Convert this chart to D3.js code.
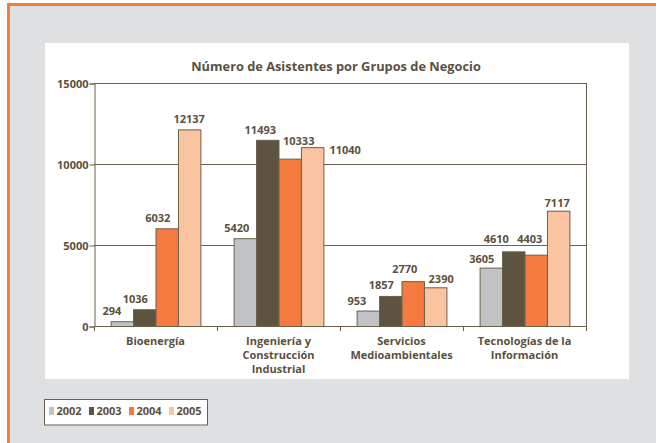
<!DOCTYPE html>
<html>
<head>
<meta charset="utf-8">
<script src="https://cdn.jsdelivr.net/npm/d3@7"></script>
<style>
  body { margin: 0; background: #fff; }
  svg { display: block; font-family: "Open Sans", "Noto Sans", sans-serif; }
</style>
</head>
<body>
<div id="chart"></div>
<script>
// chart data
const categories = [
    ["Bioenergía"],
    ["Ingeniería y", "Construcción", "Industrial"],
    ["Servicios", "Medioambientales"],
    ["Tecnologías de la", "Información"]
];
const years = ["2002", "2003", "2004", "2005"];
const values2002 = [294, 5420, 953, 3605];
const values2003 = [1036, 11493, 1857, 4610];
const values2004 = [6032, 10333, 2770, 4403];
const values2005 = [12137, 11040, 2390, 7117];
const yTicks = [0, 5000, 10000, 15000];

// label nudges (pixels) copied from the original layout, [category][year]
const labelNudge = [
    [[-10, 0], [-9, 0], [-9, 0], [0, 0]],
    [[-8, 0], [-7, 0], [9, -8], [33, 13]],
    [[-11, 0], [-9, -1], [-8, -2], [6, 2]],
    [[-9, 1], [-17, -2], [-6, -6], [-1, 2]]
];

const colors = ["#c1c2c5", "#5e533f", "#f47a40", "#fbc4a1"];
const ink = "#5b503e";
const lineColor = "#6b604c";

const width = 656;
const height = 443;
const plot = { left: 94, right: 586, top: 83, bottom: 326 };

const svg = d3.select('#chart').append('svg')
    .attr('width', width)
    .attr('height', height);

// background frame
svg.append('rect').attr('x', 7).attr('y', 3).attr('width', width - 7).attr('height', height - 3)
    .attr('fill', '#dfe0e2');
svg.append('path')
    .attr('d', `M8.5,${height} V4.5 H${width}`)
    .attr('fill', 'none').attr('stroke', '#f47a40').attr('stroke-width', 3);

// white panel
svg.append('rect').attr('x', 45).attr('y', 43).attr('width', 584).attr('height', 336)
    .attr('fill', '#fff');

svg.append('text')
    .attr('x', 336).attr('y', 71)
    .attr('text-anchor', 'middle')
    .attr('font-size', 12.8).attr('font-weight', 'bold')
    .attr('fill', ink)
    .text('Número de Asistentes por Grupos de Negocio');

const x = d3.scaleBand()
    .domain(d3.range(categories.length))
    .range([plot.left, plot.right])
    .paddingInner(0.27)
    .paddingOuter(0.135);

const xYear = d3.scaleBand()
    .domain(years)
    .range([0, x.bandwidth()]);

const y = d3.scaleLinear()
    .domain([0, 15000])
    .range([plot.bottom, plot.top]);

// gridlines + frame
svg.append('g').selectAll('line')
    .data(yTicks.slice(1))
    .join('line')
    .attr('x1', plot.left).attr('x2', plot.right)
    .attr('y1', d => y(d) + 0.5).attr('y2', d => y(d) + 0.5)
    .attr('stroke', lineColor);
svg.append('line')
    .attr('x1', plot.right + 0.5).attr('x2', plot.right + 0.5)
    .attr('y1', plot.top).attr('y2', plot.bottom)
    .attr('stroke', lineColor);

// y axis
const yAxis = svg.append('g')
    .attr('transform', `translate(${plot.left + 0.5},0.5)`)
    .call(d3.axisLeft(y).tickValues(yTicks).tickSize(5).tickPadding(1).tickFormat(d3.format('d')));
yAxis.select('.domain').attr('stroke', lineColor);
yAxis.selectAll('.tick line').attr('stroke', lineColor);
yAxis.selectAll('.tick text')
    .attr('fill', ink).attr('font-size', 11).attr('font-weight', 'bold')
    .attr('font-family', '"Open Sans", "Noto Sans", sans-serif');

// bars
const series = [values2002, values2003, values2004, values2005];
const rows = [];
categories.forEach((c, i) => {
    years.forEach((yr, j) => {
        rows.push({ cat: i, year: yr, yi: j, value: series[j][i] });
    });
});

svg.append('g').selectAll('rect')
    .data(rows)
    .join('rect')
    .attr('x', d => x(d.cat) + xYear(d.year) + 0.5)
    .attr('y', d => y(d.value) + 0.5)
    .attr('width', xYear.bandwidth())
    .attr('height', d => y(0) - y(d.value))
    .attr('fill', d => colors[d.yi])
    .attr('stroke', lineColor)
    .attr('stroke-width', 1);

// value labels
svg.append('g').selectAll('text')
    .data(rows)
    .join('text')
    .attr('x', d => x(d.cat) + xYear(d.year) + xYear.bandwidth() / 2 + labelNudge[d.cat][d.yi][0])
    .attr('y', d => y(d.value) - 6 + labelNudge[d.cat][d.yi][1])
    .attr('text-anchor', 'middle')
    .attr('font-size', 11).attr('font-weight', 'bold')
    .attr('fill', ink)
    .text(d => d.value);

// x axis line with boundary ticks
svg.append('line')
    .attr('x1', plot.left).attr('x2', plot.right + 1)
    .attr('y1', plot.bottom + 0.5).attr('y2', plot.bottom + 0.5)
    .attr('stroke', lineColor);
svg.append('g').selectAll('line')
    .data(d3.range(categories.length + 1))
    .join('line')
    .attr('x1', i => plot.left + i * x.step() + 0.5)
    .attr('x2', i => plot.left + i * x.step() + 0.5)
    .attr('y1', plot.bottom).attr('y2', plot.bottom + 5)
    .attr('stroke', lineColor);

// category labels
const catLabels = svg.append('g').selectAll('text')
    .data(categories)
    .join('text')
    .attr('x', (d, i) => x(i) + x.bandwidth() / 2)
    .attr('y', 345)
    .attr('text-anchor', 'middle')
    .attr('font-size', 11).attr('font-weight', 'bold')
    .attr('fill', ink);
catLabels.selectAll('tspan')
    .data(d => d)
    .join('tspan')
    .attr('x', function () { return this.parentNode.getAttribute('x'); })
    .attr('dy', (d, i) => i === 0 ? 0 : 13.8)
    .text(d => d);

// legend
const legend = svg.append('g');
legend.append('rect')
    .attr('x', 44.5).attr('y', 399.5).attr('width', 163).attr('height', 25.5)
    .attr('fill', '#fff').attr('stroke', lineColor);
const items = legend.selectAll('g')
    .data(years)
    .join('g')
    .attr('transform', (d, i) => `translate(${49 + i * 40},0)`);
items.append('rect')
    .attr('x', 0).attr('y', 407).attr('width', 5).attr('height', 8)
    .attr('fill', (d, i) => colors[i]);
items.append('text')
    .attr('x', 7.5).attr('y', 415)
    .attr('font-size', 11).attr('font-weight', 'bold')
    .attr('fill', ink)
    .text(d => d);
</script>
</body>
</html>
